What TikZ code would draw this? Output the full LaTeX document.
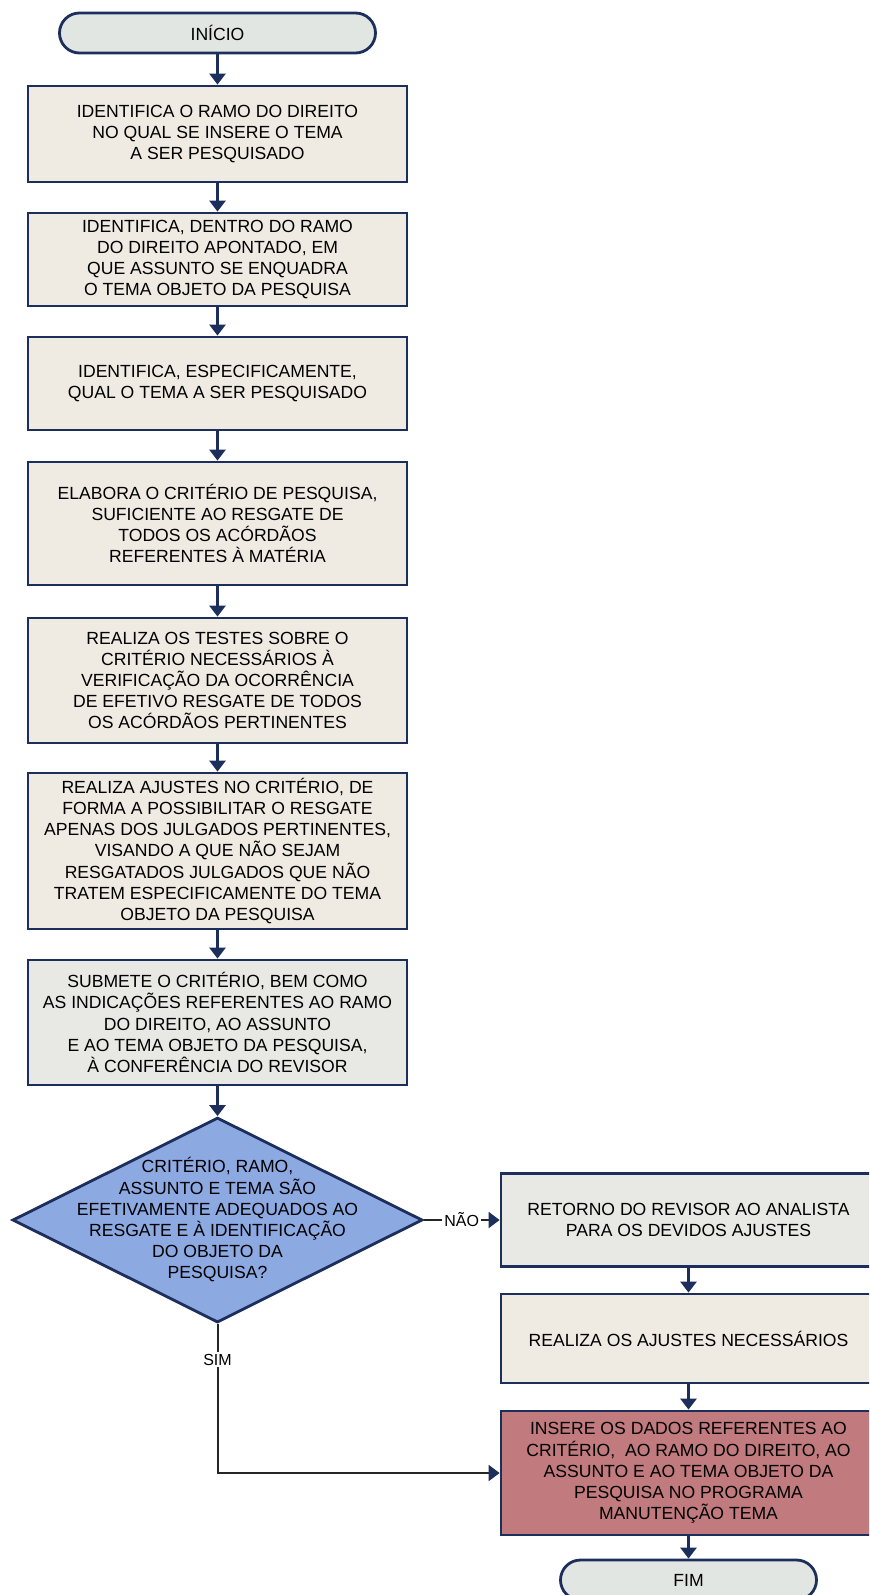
\documentclass[tikz,border=0pt]{standalone}
\usepackage{fontspec}
\setmainfont{Liberation Sans}
\usepackage{tikz}
\usetikzlibrary{arrows.meta,positioning,shapes.geometric}
\usepackage{xcolor}
\definecolor{navy}{RGB}{28,46,92}
\definecolor{boxbeige}{RGB}{239,235,227}
\definecolor{boxgray}{RGB}{232,232,228}
\definecolor{termgray}{RGB}{226,230,226}
\definecolor{decblue}{RGB}{141,169,226}
\definecolor{rose}{RGB}{193,122,125}

\begin{document}
\begin{tikzpicture}[
  x=.5pt,y=.5pt,>={Triangle[length=5.5pt,width=8pt]},
  flow/.style={->,draw=navy,line width=1.4pt},
  answer/.style={-{Triangle[length=5.5pt,width=8pt,color=navy]},draw=black!85,line width=1pt},
  box/.style={draw=navy,line width=1.4pt,fill=boxbeige,align=center,inner sep=0pt,
    minimum width=189.5pt,font=\fontsize{8.8}{10.6}\selectfont},
  term/.style={box,rounded corners=10pt,fill=termgray,minimum width=158pt,minimum height=20pt},
  dec/.style={diamond,draw=navy,line width=1.4pt,fill=decblue,aspect=2,inner sep=0pt,
    minimum width=205pt,minimum height=102.5pt},
  dectxt/.style={align=center,inner sep=0pt,font=\fontsize{8.8}{10.6}\selectfont},
  lbl/.style={fill=white,inner sep=1pt,font=\fontsize{8}{9.6}\selectfont}]
\useasboundingbox (0,0) rectangle (869,-1595);
\clip (0,0) rectangle (869,-1595);
% main column
\node[term] (inicio) at (217.5,-33) {INÍCIO};
\node[box,minimum height=48pt] (ramo) at (217.5,-134)
 {IDENTIFICA O RAMO DO DIREITO\\NO QUAL SE INSERE O TEMA\\A SER PESQUISADO};
\node[box,minimum height=46.5pt] (assunto) at (217.5,-259.5)
 {IDENTIFICA, DENTRO DO RAMO\\DO DIREITO APONTADO, EM\\QUE ASSUNTO SE ENQUADRA\\O TEMA OBJETO DA PESQUISA};
\node[box,minimum height=46.5pt] (tema) at (217.5,-383.5)
 {IDENTIFICA, ESPECIFICAMENTE,\\QUAL O TEMA A SER PESQUISADO};
\node[box,minimum height=61.5pt] (criterio) at (217.5,-523.5)
 {ELABORA O CRITÉRIO DE PESQUISA,\\SUFICIENTE AO RESGATE DE\\TODOS OS ACÓRDÃOS\\REFERENTES À MATÉRIA};
\node[box,minimum height=62.5pt] (testes) at (217.5,-680.5)
 {REALIZA OS TESTES SOBRE O\\CRITÉRIO NECESSÁRIOS À\\VERIFICAÇÃO DA OCORRÊNCIA\\DE EFETIVO RESGATE DE TODOS\\OS ACÓRDÃOS PERTINENTES};
\node[box,minimum height=78pt] (ajustes) at (217.5,-851)
 {REALIZA AJUSTES NO CRITÉRIO, DE\\FORMA A POSSIBILITAR O RESGATE\\APENAS DOS JULGADOS PERTINENTES,\\VISANDO A QUE NÃO SEJAM\\RESGATADOS JULGADOS QUE NÃO\\TRATEM ESPECIFICAMENTE DO TEMA\\OBJETO DA PESQUISA};
\node[box,fill=boxgray,minimum height=62.5pt] (submete) at (217.5,-1022.5)
 {SUBMETE O CRITÉRIO, BEM COMO\\AS INDICAÇÕES REFERENTES AO RAMO\\DO DIREITO, AO ASSUNTO\\E AO TEMA OBJETO DA PESQUISA,\\À CONFERÊNCIA DO REVISOR};
\node[dec,label={[dectxt]center:{CRITÉRIO, RAMO,\\ASSUNTO E TEMA SÃO\\EFETIVAMENTE ADEQUADOS AO\\RESGATE E À IDENTIFICAÇÃO\\DO OBJETO DA\\PESQUISA?}}] (adequado) at (217.5,-1220) {};
% right column
\node[box,fill=boxgray,minimum width=187.5pt,minimum height=46.5pt] (retorno) at (688.5,-1220)
 {RETORNO DO REVISOR AO ANALISTA\\PARA OS DEVIDOS AJUSTES};
\node[box,minimum width=187.5pt,minimum height=44.5pt] (realiza) at (688.5,-1338.5)
 {REALIZA OS AJUSTES NECESSÁRIOS};
\node[box,fill=rose,minimum width=187.5pt,minimum height=62pt] (insere) at (688.5,-1473)
 {INSERE OS DADOS REFERENTES AO\\CRITÉRIO,\ \ AO RAMO DO DIREITO, AO\\ASSUNTO E AO TEMA OBJETO DA\\PESQUISA NO PROGRAMA\\MANUTENÇÃO TEMA};
\node[term,minimum width=128pt] (fim) at (688.5,-1580) {FIM};
\draw[flow] (inicio)--(ramo);
\draw[flow] (ramo)--(assunto);
\draw[flow] (assunto)--(tema);
\draw[flow] (tema)--(criterio);
\draw[flow] (criterio)--(testes);
\draw[flow] (testes)--(ajustes);
\draw[flow] (ajustes)--(submete);
\draw[flow] (submete)--(adequado);
\draw[answer] (adequado.east)--node[lbl]{NÃO}(retorno.west);
\draw[answer] (adequado.south)|-node[lbl,pos=.12]{SIM}(insere.west);
\draw[flow] (retorno)--(realiza);
\draw[flow] (realiza)--(insere);
\draw[flow] (insere)--(fim);
\end{tikzpicture}
\end{document}
